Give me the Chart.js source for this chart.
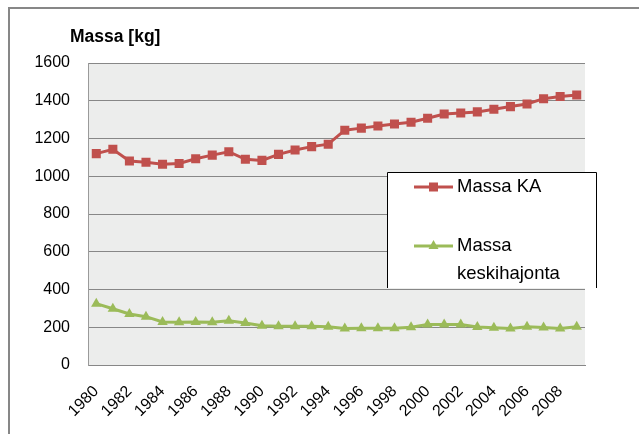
<!DOCTYPE html>
<html>
<head>
<meta charset="utf-8">
<script src="https://cdn.jsdelivr.net/npm/chart.js@4"></script>
<style>
html,body{margin:0;padding:0;background:#fff;}
#wrap{width:639px;height:434px;position:relative;}
</style>
</head>
<body>
<div id="wrap"><canvas id="c" width="639" height="434"></canvas></div>
<script>
const years = [1980,1981,1982,1983,1984,1985,1986,1987,1988,1989,1990,1991,1992,1993,1994,1995,1996,1997,1998,1999,2000,2001,2002,2003,2004,2005,2006,2007,2008,2009];
const massaKA = [1120,1143,1081,1074,1064,1068,1093,1112,1130,1090,1084,1116,1139,1157,1170,1244,1255,1266,1277,1286,1307,1330,1335,1341,1355,1369,1383,1411,1422,1430];
const massaSD = [325,298,270,256,228,226,228,227,234,222,208,205,205,205,202,194,195,195,195,200,214,214,214,201,198,193,203,199,194,203];
const yTicks = [0,200,400,600,800,1000,1200,1400,1600];
const title = 'Massa [kg]';
const seriesLabels = ['Massa KA','Massa keskihajonta'];

const FONT = '"Liberation Sans", Arial, sans-serif';

const decor = {
  id: 'decor',
  beforeDraw(chart) {
    const ctx = chart.ctx, a = chart.chartArea;
    ctx.save();
    ctx.fillStyle = '#fff';
    ctx.fillRect(0, 0, chart.width, chart.height);
    ctx.strokeStyle = '#878787';
    ctx.lineWidth = 2;
    ctx.beginPath();
    ctx.moveTo(9, 434);
    ctx.lineTo(9, 8);
    ctx.lineTo(639, 8);
    ctx.stroke();
    ctx.fillStyle = '#ECEDEC';
    ctx.fillRect(a.left, a.top, a.right - a.left, a.bottom - a.top);
    ctx.fillStyle = '#000';
    ctx.font = 'bold 17.5px ' + FONT;
    ctx.textBaseline = 'middle';
    ctx.textAlign = 'left';
    ctx.fillText(title, 70, 37);
    ctx.restore();
  },
  afterDraw(chart) {
    const ctx = chart.ctx;
    const x0 = 387, y0 = 172, x1 = 597, y1 = 288;
    ctx.save();
    ctx.fillStyle = '#fff';
    ctx.fillRect(x0, y0, x1 - x0, y1 - y0);
    ctx.strokeStyle = '#000';
    ctx.lineWidth = 1;
    ctx.beginPath();
    ctx.moveTo(x0 + 0.5, y1);
    ctx.lineTo(x0 + 0.5, y0 + 0.5);
    ctx.lineTo(x1 - 0.5, y0 + 0.5);
    ctx.lineTo(x1 - 0.5, y1);
    ctx.stroke();
    const rows = [187, 246];
    ctx.font = '18.5px ' + FONT;
    ctx.textBaseline = 'middle';
    ctx.textAlign = 'left';
    chart.data.datasets.forEach((ds, i) => {
      const y = rows[i];
      ctx.strokeStyle = ds.borderColor;
      ctx.lineWidth = 3;
      ctx.beginPath();
      ctx.moveTo(414, y);
      ctx.lineTo(453, y);
      ctx.stroke();
      ctx.fillStyle = ds.pointBackgroundColor;
      if (ds.pointStyle === 'rect') {
        ctx.fillRect(429, y - 4.5, 9, 9);
      } else {
        ctx.beginPath();
        ctx.moveTo(433.5, y - 6);
        ctx.lineTo(438.5, y + 3);
        ctx.lineTo(428.5, y + 3);
        ctx.closePath();
        ctx.fill();
      }
      ctx.fillStyle = '#000';
      const maxW = x1 - 458 - 4;
      const words = ds.label.split(' ');
      const lines = [];
      let cur = '';
      words.forEach(w => {
        const t = cur ? cur + ' ' + w : w;
        if (ctx.measureText(t).width > maxW && cur) { lines.push(cur); cur = w; }
        else cur = t;
      });
      if (cur) lines.push(cur);
      lines.forEach((l, k) => ctx.fillText(l, 457, y + k * 28));
    });
    ctx.restore();
  }
};

new Chart(document.getElementById('c'), {
  type: 'line',
  data: {
    labels: years.map(String),
    datasets: [
      {
        label: seriesLabels[0],
        data: massaKA,
        borderColor: '#C0504D',
        backgroundColor: '#C0504D',
        pointBackgroundColor: '#C0504D',
        pointBorderWidth: 0,
        borderWidth: 3,
        pointStyle: 'rect',
        pointRadius: 6.4,
        tension: 0
      },
      {
        label: seriesLabels[1],
        data: massaSD,
        borderColor: '#9BBB59',
        backgroundColor: '#9BBB59',
        pointBackgroundColor: '#9BBB59',
        pointBorderWidth: 0,
        borderWidth: 3,
        pointStyle: 'triangle',
        pointRadius: 6,
        tension: 0
      }
    ]
  },
  options: {
    responsive: false,
    animation: false,
    devicePixelRatio: 1,
    layout: { padding: { left: 0, right: 54, top: 63, bottom: 0 } },
    plugins: { legend: { display: false }, tooltip: { enabled: false }, title: { display: false } },
    scales: {
      x: {
        offset: true,
        grid: { display: false, drawTicks: false },
        border: { display: true, color: '#878787', width: 1 },
        ticks: {
          autoSkip: false,
          maxRotation: 45,
          minRotation: 45,
          padding: 17,
          color: '#000',
          font: { family: FONT, size: 16 },
          callback: function(v, i) { return years[i] % 2 === 0 ? String(years[i]) : ''; }
        },
        afterFit(s) { s.height = 69; }
      },
      y: {
        min: 0,
        max: 1600,
        afterBuildTicks(s) { s.ticks = yTicks.map(v => ({ value: v })); },
        grid: { color: '#878787', lineWidth: 1, drawTicks: false },
        border: { display: true, color: '#9a9a9a', width: 1 },
        ticks: {
          padding: 18,
          color: '#000',
          font: { family: FONT, size: 16 },
          callback: function(v) { return String(v); }
        },
        afterFit(s) { s.width = 88; }
      }
    }
  },
  plugins: [decor]
});
</script>
</body>
</html>
